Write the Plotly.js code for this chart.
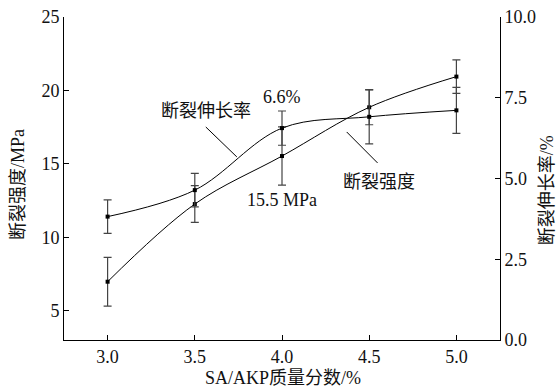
<!DOCTYPE html>
<html>
<head>
<meta charset="utf-8">
<script src="https://cdn.plot.ly/plotly-3.0.1.min.js"></script>
<style>html,body{margin:0;padding:0;background:#fff;}#chart{width:556px;height:392px;}</style>
</head>
<body>
<div id="chart"></div>
<script>
// Data
const contents = [3.0, 3.5, 4.0, 4.5, 5.0];          // SA/AKP 质量分数 /%
const strength = [6.97, 12.26, 15.53, 18.85, 20.94];  // 断裂强度 /MPa (left axis)
const strengthErr = [1.66, 1.25, 1.98, 1.19, 1.14];
const elongation = [3.82, 4.64, 6.56, 6.91, 7.11];    // 断裂伸长率 /% (right axis)
const elongationErr = [0.52, 0.52, 0.53, 0.84, 0.71];
const leftTicks = [5, 10, 15, 20, 25];
const rightTicks = [0, 2.5, 5, 7.5, 10];
const xTicks = [3.0, 3.5, 4.0, 4.5, 5.0];

const FONT = '"Liberation Serif", "Times New Roman", "Noto Sans CJK SC", serif';
const FS = 18;

const traces = [
  {
    x: contents, y: strength, type: 'scatter', mode: 'lines+markers', name: '断裂强度',
    line: {color: '#000', width: 1, shape: 'spline', smoothing: 1},
    marker: {color: '#000', size: 4, symbol: 'square'},
    error_y: {type: 'data', array: strengthErr, visible: true, color: '#444', thickness: 1.2, width: 4},
    yaxis: 'y'
  },
  {
    x: contents, y: elongation, type: 'scatter', mode: 'lines+markers', name: '断裂伸长率',
    line: {color: '#000', width: 1, shape: 'spline', smoothing: 1},
    marker: {color: '#000', size: 4, symbol: 'square'},
    error_y: {type: 'data', array: elongationErr, visible: true, color: '#444', thickness: 1.2, width: 4},
    yaxis: 'y2'
  }
];

const layout = {
  width: 556, height: 392,
  margin: {l: 64, r: 56, t: 17, b: 52},
  paper_bgcolor: '#fff', plot_bgcolor: 'rgba(0,0,0,0)',
  showlegend: false,
  font: {family: FONT, size: FS, color: '#111'},
  xaxis: {
    range: [2.75, 5.25], tickvals: xTicks, ticktext: xTicks.map(v => v.toFixed(1)),
    showgrid: false, zeroline: false, showline: true, linecolor: '#000', linewidth: 1,
    ticks: 'inside', ticklen: 5, tickcolor: '#000',
    tickfont: {family: FONT, size: FS}
  },
  yaxis: {
    range: [3, 25], tickvals: leftTicks, ticktext: leftTicks.map(String),
    showgrid: false, zeroline: false, showline: true, linecolor: '#000', linewidth: 1,
    ticks: 'inside', ticklen: 5, tickcolor: '#000',
    tickfont: {family: FONT, size: FS}
  },
  yaxis2: {
    range: [0, 10], overlaying: 'y', side: 'right',
    tickvals: rightTicks, ticktext: rightTicks.map(v => v.toFixed(1)),
    showgrid: false, zeroline: false, showline: true, linecolor: '#000', linewidth: 1,
    ticks: 'inside', ticklen: 5, tickcolor: '#000',
    tickfont: {family: FONT, size: FS}
  },
  shapes: [
    {type: 'line', xref: 'x', yref: 'y', x0: 3.563, y0: 17.51, x1: 3.741, y1: 15.47, line: {color: '#000', width: 1}},
    {type: 'line', xref: 'x', yref: 'y', x0: 4.371, y0: 17.17, x1: 4.548, y1: 15.06, line: {color: '#000', width: 1}}
  ],
  annotations: [
    {x: 4.0, y: 19.55, xref: 'x', yref: 'y', text: '6.6%', showarrow: false, xanchor: 'center', yanchor: 'middle', font: {family: FONT, size: FS}},
    {x: 4.0, y: 12.54, xref: 'x', yref: 'y', text: '15.5 MPa', showarrow: false, xanchor: 'center', yanchor: 'middle', font: {family: FONT, size: FS}},
    {x: 3.563, y: 18.6, xref: 'x', yref: 'y', text: '断裂伸长率', showarrow: false, xanchor: 'center', yanchor: 'middle', font: {family: FONT, size: FS}},
    {x: 4.554, y: 13.76, xref: 'x', yref: 'y', text: '断裂强度', showarrow: false, xanchor: 'center', yanchor: 'middle', font: {family: FONT, size: FS}},
    // axis titles
    {x: 0.502, y: -0.118, xref: 'paper', yref: 'paper', text: 'SA/AKP质量分数/%', showarrow: false, xanchor: 'center', yanchor: 'middle', font: {family: FONT, size: FS}},
    {x: -0.1055, y: 0.480, xref: 'paper', yref: 'paper', text: '断裂强度/MPa', textangle: -90, showarrow: false, xanchor: 'center', yanchor: 'middle', font: {family: FONT, size: FS}},
    {x: 1.108, y: 0.464, xref: 'paper', yref: 'paper', text: '断裂伸长率/%', textangle: -90, showarrow: false, xanchor: 'center', yanchor: 'middle', font: {family: FONT, size: FS}}
  ]
};

Plotly.newPlot('chart', traces, layout, {displayModeBar: false, staticPlot: true});
</script>
</body>
</html>
